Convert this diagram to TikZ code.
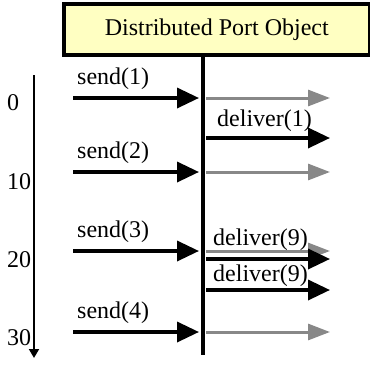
\documentclass[tikz,border=0pt]{standalone}
\usepackage{fontspec}
\setmainfont{Liberation Serif}
\usetikzlibrary{arrows.meta, positioning}

\definecolor{boxyellow}{RGB}{255,255,194}
\definecolor{echogray}{RGB}{136,136,136}

\tikzset{
  msg/.style={line width=3.5pt, -{Triangle[length=22pt,width=20pt]}},
  echo/.style={line width=3pt, echogray, -{Triangle[length=22pt,width=16pt]}},
  lbl/.style={anchor=base west, inner sep=0pt}
}

\begin{document}
\begin{tikzpicture}[x=1pt, y=-1pt, every node/.style={font=\fontsize{24}{28}\selectfont}]
\useasboundingbox (0,0) rectangle (370,367);

% the object and its lifeline
\node [draw, line width=3.5pt, fill=boxyellow, minimum width=306pt, minimum height=51pt, anchor=north west, inner sep=0pt] (dpo) at (62,2) {Distributed Port Object};
\coordinate (lifeend) at (203,355);
\draw [line width=3.5pt] (dpo.south west -| lifeend) -- (lifeend);

% time axis
\coordinate (ttop) at (34,75);
\coordinate (tend) at (34,358);
\draw [line width=1.8pt, -{Triangle[length=9pt,width=10pt]}] (ttop) -- (tend);
\foreach \t/\y in {0/103, 10/182, 20/260, 30/338}
  \node [anchor=west, inner sep=0pt] (t\t) at (7,\y) {\t};

% sends and their copies
\foreach \n/\y in {1/98, 2/172, 3/251, 4/332} {
  \coordinate (s\n) at (73,\y);
  \coordinate (r\n) at (199,\y);
  \coordinate (e\n) at (206,\y);
  \coordinate (f\n) at (330,\y);
  \draw [msg] (s\n) -- (r\n);
  \draw [echo] (e\n) -- (f\n);
  \node [lbl] (send\n) at (77,\y-14) {send(\n)};
}

% deliveries
\coordinate (d1) at (206,138);
\coordinate (g1) at (330,138);
\draw [msg] (d1) -- (g1);
\node [lbl] (deliver1) at (217,126) {deliver(1)};

\coordinate (d2) at (206,259);
\coordinate (g2) at (330,259);
\draw [msg] (d2) -- (g2);
\node [lbl] (deliver2) at (213,245) {deliver(9)};

\coordinate (d3) at (206,290);
\coordinate (g3) at (330,290);
\draw [msg] (d3) -- (g3);
\node [lbl] (deliver3) at (213,281) {deliver(9)};
\end{tikzpicture}
\end{document}
